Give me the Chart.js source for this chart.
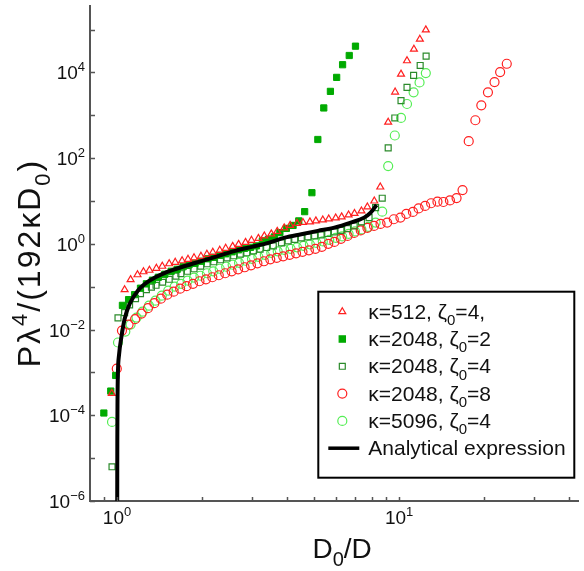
<!DOCTYPE html>
<html>
<head>
<meta charset="utf-8">
<script src="https://cdn.jsdelivr.net/npm/chart.js@4.4.1/dist/chart.umd.min.js"></script>
<style>
  html, body { margin: 0; padding: 0; background: #fff; }
  #wrap { width: 584px; height: 571px; }
</style>
</head>
<body>
<div id="wrap"><canvas id="chart"></canvas></div>
<script>
// kappa=512, zeta0=4 (open red triangles)
const k512z4X = [0.958, 1.064, 1.117, 1.182, 1.241, 1.303, 1.379, 1.447, 1.531, 1.608, 1.701, 1.785, 1.875, 1.984, 2.083, 2.186, 2.313, 2.428, 2.570, 2.698, 2.855, 2.997, 3.171, 3.329, 3.523, 3.698, 3.914, 4.108, 4.347, 4.563, 4.829, 5.070, 5.365, 5.632, 5.962, 6.257, 6.622, 6.950, 7.355, 7.720, 8.170, 8.578, 9.150, 9.683, 10.16, 10.67, 11.29, 11.85, 12.44]
const k512z4Y = [3.25e-4, 0.0851, 0.146, 0.190, 0.223, 0.242, 0.269, 0.300, 0.343, 0.371, 0.403, 0.436, 0.472, 0.512, 0.570, 0.634, 0.706, 0.786, 0.875, 0.974, 1.08, 1.21, 1.34, 1.53, 1.71, 1.95, 2.36, 2.69, 3.00, 3.16, 3.25, 3.43, 3.61, 3.81, 4.02, 4.25, 4.72, 5.12, 5.85, 7.25, 10.0, 21.2, 688, 3480, 9130, 18700, 34800, 59500, 98400]

// kappa=2048, zeta0=2 (filled green squares)
const k2048z2X = [0.898, 0.950, 0.989, 1.045, 1.099, 1.154, 1.211, 1.271, 1.335, 1.401, 1.477, 1.556, 1.634, 1.715, 1.800, 1.890, 1.992, 2.100, 2.203, 2.313, 2.428, 2.559, 2.698, 2.833, 2.973, 3.121, 3.276, 3.439, 3.610, 3.780, 3.986, 4.209, 4.409, 4.627, 4.909, 5.152, 5.408, 5.709, 6.008, 6.306, 6.658, 7.006]
const k2048z2Y = [1.13e-4, 3.67e-4, 8.51e-4, 0.0367, 0.0499, 0.0652, 0.0923, 0.117, 0.142, 0.166, 0.195, 0.229, 0.255, 0.292, 0.325, 0.352, 0.392, 0.448, 0.485, 0.540, 0.585, 0.652, 0.725, 0.786, 0.829, 0.898, 1.17, 1.27, 1.45, 1.83, 2.29, 2.69, 3.43, 5.64, 15.6, 272, 1480, 3610, 7650, 15100, 24800, 40900]

// kappa=2048, zeta0=4 (open dark green squares)
const k2048z4X = [0.960, 1.008, 1.064, 1.108, 1.163, 1.211, 1.271, 1.324, 1.375, 1.451, 1.531, 1.617, 1.684, 1.776, 1.875, 1.980, 2.087, 2.203, 2.327, 2.455, 2.591, 2.735, 2.885, 3.045, 3.215, 3.391, 3.581, 3.829, 4.043, 4.267, 4.501, 4.752, 5.017, 5.292, 5.586, 5.897, 6.221, 6.567, 6.932, 7.355, 7.827, 8.256, 8.715, 9.150, 9.658, 10.16, 10.67, 11.26, 11.88, 12.47]
const k2048z4Y = [6.28e-6, 0.0187, 0.0249, 0.0375, 0.0526, 0.0687, 0.0851, 0.0973, 0.108, 0.127, 0.149, 0.176, 0.201, 0.229, 0.262, 0.300, 0.343, 0.381, 0.425, 0.472, 0.526, 0.576, 0.618, 0.687, 0.753, 0.820, 0.898, 1.05, 1.17, 1.27, 1.38, 1.45, 1.53, 1.62, 1.74, 1.90, 2.06, 2.27, 2.62, 3.25, 4.09, 6.98, 11.6, 174, 865, 2200, 4480, 8510, 14500, 23900]

// kappa=2048, zeta0=8 (open red circles)
const k2048z8X = [0.998, 1.041, 1.099, 1.159, 1.221, 1.287, 1.356, 1.430, 1.507, 1.588, 1.674, 1.764, 1.859, 1.960, 2.066, 2.177, 2.295, 2.418, 2.549, 2.687, 2.833, 2.985, 3.146, 3.316, 3.494, 3.683, 3.882, 4.092, 4.313, 4.545, 4.790, 5.049, 5.321, 5.610, 5.897, 6.221, 6.567, 6.932, 7.314, 7.720, 8.150, 8.597, 9.074, 9.580, 10.11, 10.61, 11.20, 11.73, 12.37, 12.99, 13.68, 14.36, 15.15, 15.99, 16.79, 17.66, 18.64, 19.57, 20.66, 21.80, 22.82, 24.09]
const k2048z8Y = [1.22e-3, 9.48e-3, 0.0131, 0.0175, 0.0236, 0.0316, 0.0413, 0.0526, 0.0652, 0.0765, 0.0898, 0.103, 0.117, 0.134, 0.149, 0.166, 0.185, 0.206, 0.229, 0.255, 0.284, 0.316, 0.352, 0.392, 0.436, 0.472, 0.512, 0.555, 0.601, 0.652, 0.706, 0.765, 0.851, 1.00, 1.11, 1.31, 1.53, 1.80, 2.06, 2.36, 2.62, 2.92, 3.13, 3.75, 4.09, 4.99, 5.55, 6.69, 7.65, 8.85, 9.63, 9.48, 10.3, 11.7, 18.0, 248, 765, 1710, 3430, 5950, 10200, 15900]

// kappa=5096, zeta0=4 (open light green circles)
const k5096z4X = [0.960, 1.008, 1.070, 1.117, 1.173, 1.231, 1.298, 1.368, 1.441, 1.519, 1.601, 1.688, 1.779, 1.875, 1.976, 2.083, 2.194, 2.313, 2.438, 2.570, 2.708, 2.855, 3.009, 3.171, 3.343, 3.523, 3.713, 3.914, 4.125, 4.347, 4.582, 4.829, 5.090, 5.365, 5.655, 5.962, 6.281, 6.622, 6.978, 7.355, 7.783, 8.256, 8.715, 9.150, 9.658, 10.16, 10.67, 11.26, 11.82, 12.44]
const k5096z4Y = [6.98e-5, 4.99e-3, 8.98e-3, 0.0131, 0.0190, 0.0262, 0.0361, 0.0472, 0.0618, 0.0807, 0.100, 0.117, 0.138, 0.162, 0.180, 0.206, 0.229, 0.262, 0.292, 0.325, 0.361, 0.403, 0.448, 0.499, 0.555, 0.618, 0.670, 0.725, 0.765, 0.829, 0.898, 0.974, 1.05, 1.14, 1.24, 1.38, 1.49, 1.71, 1.95, 2.17, 2.49, 3.13, 5.64, 65.2, 337, 865, 1830, 3430, 5850, 9630]

// analytical expression (black curve)
const analyticX = [1.0016, 1.0024, 1.004, 1.008, 1.016, 1.036, 1.064, 1.108, 1.185, 1.303, 1.491, 1.753, 2.005, 2.295, 2.627, 3.005, 3.438, 3.936, 4.501, 5.153, 5.897, 6.745, 7.516, 7.930, 8.325]
const analyticY = [1e-6, 2.62e-5, 2.23e-4, 1.11e-3, 2.48e-3, 6.62e-3, 0.0177, 0.0396, 0.0807, 0.138, 0.215, 0.308, 0.402, 0.526, 0.687, 0.851, 1.05, 1.40, 1.68, 2.01, 2.39, 3.13, 4.09, 5.35, 8.07]

// axis ticks
const xTickValues = [0.9, 1, 2, 3, 4, 5, 6, 7, 8, 9, 10, 20, 30, 40]
const xLabelExps = [0, 1]
const yTickExps = [-6, -5, -4, -3, -2, -1, 0, 1, 2, 3, 4, 5]
const yLabelExps = [-6, -4, -2, 0, 2, 4]

const RED = '#ff2020'
const GREEN_FILL = '#00aa00'
const GREEN_DARK = '#2b8a2b'
const GREEN_LIGHT = '#55ee55'
const FONT = '"Liberation Sans", Arial, Helvetica, sans-serif'

function pts(xs, ys) {
    return xs.map((x, i) => ({ x: x, y: ys[i] }))
}

const legendRows = [
    { parts: [['κ=512, ζ'], ['0', 'sub'], ['=4,']], style: 'triangle', color: RED, fill: false, r: 4 },
    { parts: [['κ=2048, ζ'], ['0', 'sub'], ['=2']], style: 'rect', color: GREEN_FILL, fill: true, r: 4.4 },
    { parts: [['κ=2048, ζ'], ['0', 'sub'], ['=4']], style: 'rect', color: GREEN_DARK, fill: false, r: 4.2 },
    { parts: [['κ=2048, ζ'], ['0', 'sub'], ['=8']], style: 'circle', color: RED, fill: false, r: 4.5 },
    { parts: [['κ=5096, ζ'], ['0', 'sub'], ['=4']], style: 'circle', color: GREEN_LIGHT, fill: false, r: 4.5 },
    { parts: [['Analytical expression']], style: 'line' },
]

// writes text made of plain / sub / sup pieces, returns end x
function richText(ctx, parts, x, y, size) {
    for (const [t, kind] of parts) {
        let sz = size, dy = 0
        if (kind === 'sub') { sz = Math.round(size * 0.7); dy = size * 0.3 }
        if (kind === 'sup') { sz = Math.round(size * 0.7); dy = -size * 0.42 }
        ctx.font = sz + 'px ' + FONT
        ctx.fillText(t, x, y + dy)
        x += ctx.measureText(t).width
    }
    return x
}

function richWidth(ctx, parts, size) {
    let w = 0
    for (const [t, kind] of parts) {
        const sz = kind ? Math.round(size * 0.7) : size
        ctx.font = sz + 'px ' + FONT
        w += ctx.measureText(t).width
    }
    return w
}

const overlay = {
    id: 'overlay',
    afterDraw(chart) {
        const ctx = chart.ctx
        const xs = chart.scales.x
        const ys = chart.scales.y
        const area = chart.chartArea
        ctx.save()

        // inward tick marks
        ctx.strokeStyle = '#555'
        ctx.lineWidth = 1.5
        ctx.beginPath()
        for (const e of yTickExps) {
            const p = Math.round(ys.getPixelForValue(Math.pow(10, e))) + 0.5
            ctx.moveTo(area.left, p)
            ctx.lineTo(area.left + 5, p)
        }
        for (const v of xTickValues) {
            const p = Math.round(xs.getPixelForValue(v)) + 0.5
            ctx.moveTo(p, area.bottom)
            ctx.lineTo(p, area.bottom - 4)
        }
        ctx.stroke()

        // tick labels
        ctx.fillStyle = '#111'
        ctx.textBaseline = 'alphabetic'
        ctx.textAlign = 'left'
        for (const e of yLabelExps) {
            const p = ys.getPixelForValue(Math.pow(10, e))
            const parts = [['10'], [String(e).replace('-', '\u2212'), 'sup']]
            const w = richWidth(ctx, parts, 19)
            richText(ctx, parts, area.left - 5 - w, p + 7, 19)
        }
        for (const e of xLabelExps) {
            const p = xs.getPixelForValue(Math.pow(10, e))
            const parts = [['10'], [String(e), 'sup']]
            const w = richWidth(ctx, parts, 19)
            richText(ctx, parts, p - w / 2, area.bottom + 23, 19)
        }

        // axis titles
        const xt = [['D'], ['0', 'sub'], ['/D']]
        const xw = richWidth(ctx, xt, 28)
        richText(ctx, xt, (area.left + area.right) / 2 + 8 - xw / 2, area.bottom + 57, 28)

        const yt = [['P\u03bb'], ['4', 'sup'], ['/(192\u03baD'], ['0', 'sub'], [')']]
        ctx.save()
        ctx.letterSpacing = '2px'
        const yw = richWidth(ctx, yt, 32)
        ctx.translate(40, 263)
        ctx.rotate(-Math.PI / 2)
        richText(ctx, yt, -yw / 2, 0, 32)
        ctx.restore()

        // legend box
        const bx = area.right - 260, by = area.top + 286
        ctx.strokeStyle = '#000'
        ctx.lineWidth = 2
        ctx.strokeRect(bx, by, 256, 186)
        legendRows.forEach((row, i) => {
            const cy = by + 20 + i * 27.3
            const mx = bx + 24
            if (row.style === 'line') {
                ctx.strokeStyle = '#000'
                ctx.lineWidth = 3.5
                ctx.beginPath()
                ctx.moveTo(mx - 14, cy)
                ctx.lineTo(mx + 17, cy)
                ctx.stroke()
            } else {
                ctx.strokeStyle = row.color
                ctx.fillStyle = row.fill ? row.color : 'rgba(0,0,0,0)'
                ctx.lineWidth = 1.2
                Chart.helpers.drawPoint(ctx, { pointStyle: row.style, radius: row.r, rotation: 0, borderWidth: 1.2 }, mx, cy)
            }
            ctx.fillStyle = '#111'
            richText(ctx, row.parts, bx + 50, cy + 7, 21)
        })
        ctx.restore()
    }
}

const canvas = document.getElementById('chart')

const chart = new Chart(canvas, {
    type: 'scatter',
    data: {
        datasets: [
            {
                type: 'line',
                label: 'Analytical expression',
                data: pts(analyticX, analyticY),
                borderColor: '#000',
                borderWidth: 4,
                pointRadius: 0,
                cubicInterpolationMode: 'monotone',
                fill: false,
            },
            {
                label: 'κ=512, ζ0=4,',
                data: pts(k512z4X, k512z4Y),
                pointStyle: 'triangle',
                pointRadius: 4,
                borderColor: RED,
                backgroundColor: 'rgba(0,0,0,0)',
                borderWidth: 1.2,
            },
            {
                label: 'κ=2048, ζ0=2',
                data: pts(k2048z2X, k2048z2Y),
                pointStyle: 'rect',
                pointRadius: 4.4,
                borderColor: GREEN_FILL,
                backgroundColor: GREEN_FILL,
                borderWidth: 1,
            },
            {
                label: 'κ=2048, ζ0=4',
                data: pts(k2048z4X, k2048z4Y),
                pointStyle: 'rect',
                pointRadius: 4.2,
                borderColor: GREEN_DARK,
                backgroundColor: 'rgba(0,0,0,0)',
                borderWidth: 1.2,
            },
            {
                label: 'κ=2048, ζ0=8',
                data: pts(k2048z8X, k2048z8Y),
                pointStyle: 'circle',
                pointRadius: 4.5,
                borderColor: RED,
                backgroundColor: 'rgba(0,0,0,0)',
                borderWidth: 1.2,
            },
            {
                label: 'κ=5096, ζ0=4',
                data: pts(k5096z4X, k5096z4Y),
                pointStyle: 'circle',
                pointRadius: 4.5,
                borderColor: GREEN_LIGHT,
                backgroundColor: 'rgba(0,0,0,0)',
                borderWidth: 1.2,
            },
        ]
    },
    options: {
        responsive: true,
        maintainAspectRatio: false,
        animation: false,
        layout: {
            padding: { top: 3, right: 1, left: 0, bottom: 0 }
        },
        plugins: {
            legend: false,
            tooltip: { enabled: false },
        },
        scales: {
            x: {
                type: 'logarithmic',
                min: 0.802,
                max: 43.2,
                grid: { display: false },
                border: { display: true, color: '#555', width: 2 },
                ticks: { display: false },
                afterFit(scale) { scale.height = 70 },
            },
            y: {
                type: 'logarithmic',
                min: 1e-6,
                max: 3.6e5,
                grid: { display: false },
                border: { display: true, color: '#555', width: 2 },
                ticks: { display: false },
                afterFit(scale) { scale.width = 90 },
            }
        }
    },
    plugins: [overlay]
});
</script>
</body>
</html>
